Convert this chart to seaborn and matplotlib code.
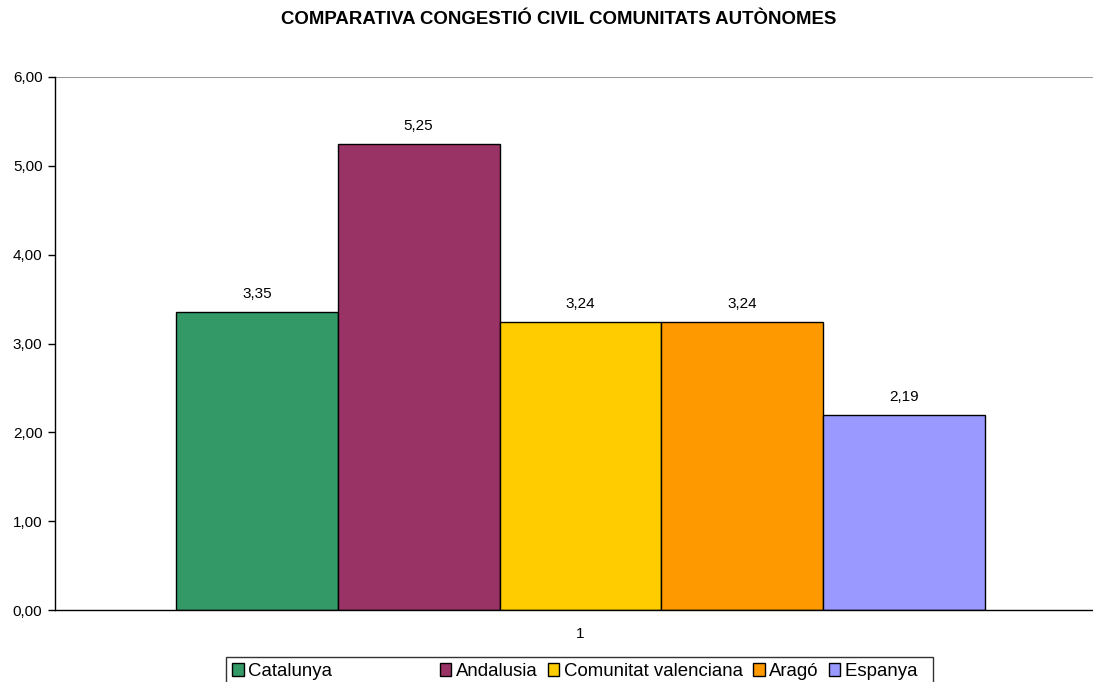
import pandas as pd
import matplotlib
matplotlib.use('Agg')
import matplotlib.pyplot as plt
import seaborn as sns

# Chart data
regions = ['Catalunya', 'Andalusia', 'Comunitat valenciana', 'Aragó', 'Espanya']
values = [3.35, 5.25, 3.24, 3.24, 2.19]
category = ['1'] * len(regions)
colors = ['#339966', '#993366', '#FFCC00', '#FF9900', '#9999FF']
y_ticks = [0, 1, 2, 3, 4, 5, 6]

df = pd.DataFrame({'cat': category, 'region': regions, 'value': values})

sns.set_style('white')
plt.rcParams['font.family'] = ['Liberation Sans', 'DejaVu Sans']
plt.rcParams['text.color'] = 'black'
plt.rcParams['xtick.color'] = 'black'
plt.rcParams['ytick.color'] = 'black'
plt.rcParams['axes.labelcolor'] = 'black'

fig = plt.figure(figsize=(10.93, 6.82), dpi=100)
ax = fig.add_axes([55 / 1093, 1 - 610 / 682, 1051 / 1093, (610 - 77) / 682])

sns.barplot(data=df, x='cat', y='value', hue='region', palette=colors,
            width=0.77, edgecolor='black', linewidth=1, saturation=1,
            legend=True, ax=ax)

for cont in ax.containers:
    ax.bar_label(cont, labels=[f'{v:.2f}'.replace('.', ',') for v in cont.datavalues],
                 padding=8, fontsize=11, color='black')

ax.set_xlim(-0.5, 0.5)
ax.set_ylim(0, 6)
ax.set_yticks(y_ticks)
ax.set_yticklabels([f'{t:.2f}'.replace('.', ',') for t in y_ticks], fontsize=11)
ax.tick_params(axis='y', direction='out', length=5, width=1, color='black', left=True, pad=4)
ax.tick_params(axis='x', length=0, labelsize=11, pad=12)
ax.set_xlabel('')
ax.set_ylabel('')
ax.axhline(6, color='#999999', linewidth=1.5, zorder=0)

for side in ['top', 'right']:
    ax.spines[side].set_visible(False)
for side in ['left', 'bottom']:
    ax.spines[side].set_color('black')
    ax.spines[side].set_linewidth(1)

# legend spacing like the original (wide gap after the first entry)
handles, labels = ax.get_legend_handles_labels()
ax.get_legend().remove()
labels = [labels[0] + ' ' * 19] + labels[1:-1] + [labels[-1] + '  ']
leg = fig.legend(handles, labels, loc='upper left',
                 bbox_to_anchor=(226 / 1093, 1 - 657 / 682), ncol=5,
                 fontsize=13.4, frameon=True, fancybox=False, edgecolor='black',
                 handlelength=0.64, handleheight=0.64, handletextpad=0.22,
                 columnspacing=0.55, borderpad=0.32, borderaxespad=0)
leg.get_frame().set_linewidth(1)

fig.text(559 / 1093, 1 - 20 / 682, 'COMPARATIVA CONGESTIÓ CIVIL COMUNITATS AUTÒNOMES',
         ha='center', va='center', fontsize=13.4, fontweight='bold')

fig.savefig('out.png', dpi=100)
